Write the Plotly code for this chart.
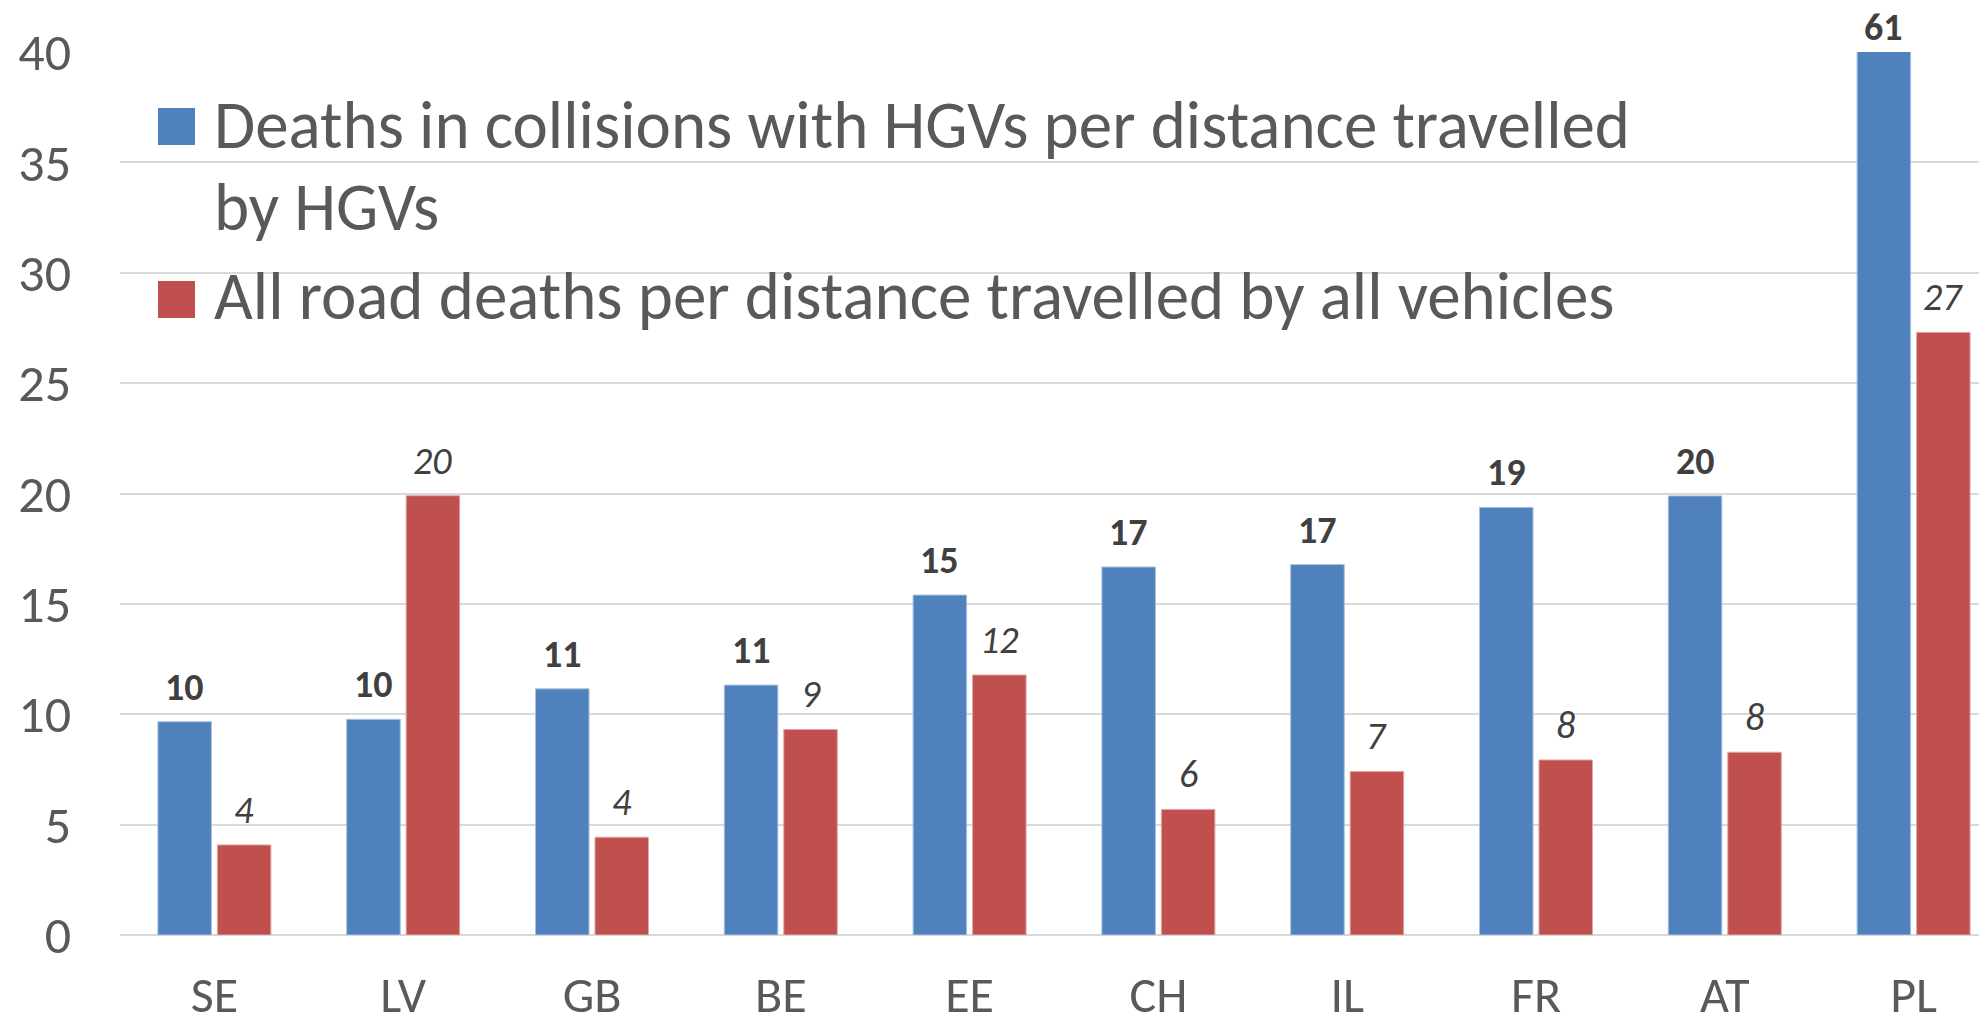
import plotly.graph_objects as go

# ---- data ----
countries = ["SE", "LV", "GB", "BE", "EE", "CH", "IL", "FR", "AT", "PL"]
hgv_deaths = [9.66, 9.77, 11.15, 11.32, 15.4, 16.67, 16.78, 19.37, 19.89, 61.0]
all_deaths = [4.08, 19.9, 4.43, 9.31, 11.78, 5.69, 7.41, 7.93, 8.28, 27.3]
series_names = [
    "Deaths in collisions with HGVs per distance travelled",
    "by HGVs",
    "All road deaths per distance travelled by all vehicles",
]
y_ticks = [0, 5, 10, 15, 20, 25, 30, 35, 40]

# ---- style ----
OFF = 8  # page body margin offset
W, H = 1987 - OFF, 1024 - OFF
ML, MR, MT, MB = 120 - OFF, 0, 52 - OFF, 89
BLUE = "#4F81BD"
RED = "#C0504D"
GRAY = "#595959"
LABEL = "#404040"
GRID = "#D9D9D9"
FONT = "Calibri, Carlito, Lato, sans-serif"
YMAX = 40
CAT_PX = 188.8  # pixel width of one category (chart is cropped on the right)

PW = W - ML - MR
PH = H - MT - MB
x_range = [-0.5, -0.5 + PW / CAT_PX]


def px_x(p):
    # p: viewport pixel x
    return (p - OFF - ML) / PW


def px_y(p):
    # p: viewport pixel y
    return (H - MB - (p - OFF)) / PH


fig = go.Figure()
fig.add_trace(go.Bar(x=countries, y=hgv_deaths, name=series_names[0],
                     marker=dict(color=BLUE, line=dict(color="#A7C0DE", width=1)),
                     showlegend=False))
fig.add_trace(go.Bar(x=countries, y=all_deaths, name=series_names[2],
                     marker=dict(color=RED, line=dict(color="#E0A8A6", width=1)),
                     showlegend=False))

# data labels
bargap, bargroupgap = 0.37, 0.1
slot = CAT_PX * (1 - bargap) / 2
off = slot / 2
annotations = []
for c, v in zip(countries, hgv_deaths):
    annotations.append(dict(x=c, y=min(v, YMAX), xref="x", yref="y", text=f"<b>{round(v)}</b>",
                            showarrow=False, yanchor="bottom", xshift=-off,
                            yshift=10 if v <= YMAX else 0,
                            font=dict(family=FONT, size=38, color=LABEL)))
for c, v in zip(countries, all_deaths):
    annotations.append(dict(x=c, y=min(v, YMAX), xref="x", yref="y", text=f"<i>{round(v)}</i>",
                            showarrow=False, yanchor="bottom", xshift=off, yshift=10,
                            font=dict(family=FONT, size=38, color=LABEL)))

# custom legend
LEG_FONT = dict(family=FONT, size=67, color=GRAY)
for txt, cy in [(series_names[0], 125), (series_names[1], 207), (series_names[2], 296)]:
    annotations.append(dict(x=px_x(212), y=px_y(cy), xref="paper", yref="paper", text=txt,
                            showarrow=False, xanchor="left", yanchor="middle", font=LEG_FONT))
shapes = []
for col, top in [(BLUE, 108), (RED, 281)]:
    shapes.append(dict(type="rect", xref="paper", yref="paper",
                       x0=px_x(158), x1=px_x(195), y0=px_y(top + 37), y1=px_y(top),
                       fillcolor=col, line=dict(width=0)))

fig.update_layout(
    width=W, height=H,
    margin=dict(l=ML, r=MR, t=MT, b=MB, pad=0),
    paper_bgcolor="white", plot_bgcolor="white",
    barmode="group", bargap=bargap, bargroupgap=bargroupgap,
    showlegend=False,
    font=dict(family=FONT, color=GRAY),
    annotations=annotations,
    shapes=shapes,
    xaxis=dict(range=x_range, showgrid=False, showline=False, ticks="", ticklabelstandoff=26,
               tickfont=dict(family=FONT, size=50, color=GRAY)),
    yaxis=dict(range=[0, YMAX], tickvals=y_ticks, showgrid=True, gridcolor=GRID, gridwidth=2,
               zeroline=True, zerolinecolor=GRID, zerolinewidth=2, showline=False, ticks="",
               ticklabelstandoff=48, tickfont=dict(family=FONT, size=52, color=GRAY)),
)

fig.write_html("out.html")
